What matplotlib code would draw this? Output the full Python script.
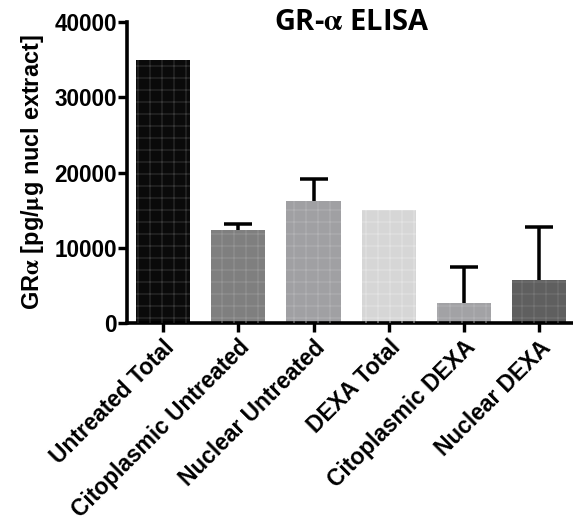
import numpy as np
import matplotlib
matplotlib.use("Agg")
import matplotlib.pyplot as plt

categories = ["Untreated Total", "Citoplasmic Untreated", "Nuclear Untreated",
              "DEXA Total", "Citoplasmic DEXA", "Nuclear DEXA"]
values = [35000, 12300, 16200, 15000, 2650, 5750]
errors = [0, 900, 2900, 0, 4850, 7050]
bar_colors = ["#0a0a0a", "#7f7f7f", "#a0a0a3", "#d6d6d6", "#a2a2a5", "#5f5f5f"]
grid_colors = ["#404040", "#999999", "#b6b6b8", "#e6e6e6", "#b6b6b8", "#7a7a7a"]
yticks = [0, 10000, 20000, 30000, 40000]

plt.rcParams['font.family'] = ['Liberation Sans', 'DejaVu Sans']
plt.rcParams['font.weight'] = 'bold'
plt.rcParams['mathtext.fontset'] = 'stix'
plt.rcParams['hatch.linewidth'] = 0.8

# dpi 72 so one point is one pixel (and hatch cells come out ~12 px)
fig = plt.figure(figsize=(573 / 72, 524 / 72), dpi=72)
ax = fig.add_axes([0.2216, 0.3836, 0.7784, 0.5744])

x = np.arange(len(categories))
ax.bar(x, values, width=0.72, color=bar_colors, linewidth=0, zorder=2)
for i in range(len(categories)):
    ax.bar(x[i], values[i], width=0.72, facecolor='none', edgecolor=grid_colors[i],
           hatch='+', linewidth=0, zorder=3)
    if errors[i] > 0:
        _, caps, _ = ax.errorbar(x[i], values[i], yerr=[[0], [errors[i]]], fmt='none',
                                 ecolor='black', elinewidth=3.5, capsize=14,
                                 capthick=3.5, zorder=4)
        caps[0].set_visible(False)

ax.set_xlim(-0.48, 5.45)
ax.set_ylim(0, 40000)
ax.set_yticks(yticks)
ax.set_yticklabels([str(v) for v in yticks])
ax.set_xticks(x)
ax.set_xticklabels(categories, rotation=45, ha='right', rotation_mode='anchor')

for s in ['top', 'right']:
    ax.spines[s].set_visible(False)
for s in ['left', 'bottom']:
    ax.spines[s].set_linewidth(3.6)
ax.tick_params(axis='both', width=3.4, length=9, labelsize=22.5)
ax.tick_params(axis='y', pad=1)
ax.tick_params(axis='x', pad=4, labelsize=22.8)

ax.set_ylabel(r"GR$\mathrm{\alpha}$ [pg/$\mathrm{\mu}$g nucl extract]", fontsize=23.5,
              weight='bold', labelpad=8)
fig.text(0.615, 0.958, r"GR-$\mathrm{\alpha}$ ELISA", fontsize=29, ha='center', va='center',
         family=['Open Sans', 'DejaVu Sans'], weight='bold')

fig.savefig("out.png", dpi=72)
